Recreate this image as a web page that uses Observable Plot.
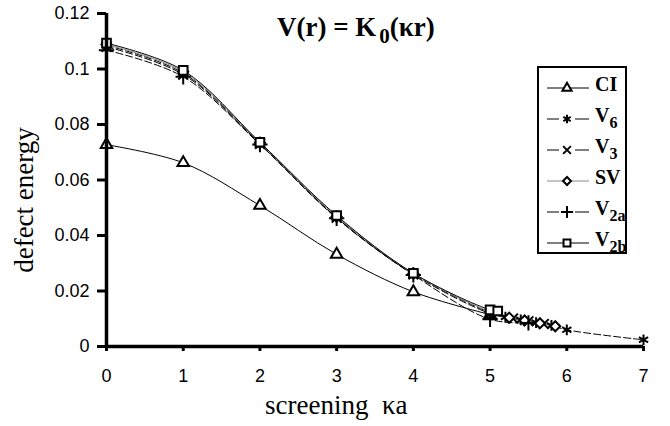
<!DOCTYPE html>
<html><head><meta charset="utf-8">
<script src="https://cdn.jsdelivr.net/npm/d3@7"></script>
<script src="https://cdn.jsdelivr.net/npm/@observablehq/plot@0.6"></script>
<style>
body{margin:0;background:#fff;}
#wrap{position:relative;width:670px;height:426px;}
#title{position:absolute;left:277px;top:12px;font:bold 27px "Liberation Serif",serif;color:#000;white-space:nowrap;}
#title sub{font-size:21px;vertical-align:-7px;margin-left:3px;}
#xlabel{position:absolute;left:265px;top:390px;font:27px "Liberation Serif",serif;color:#000;white-space:pre;}
#ylabel{position:absolute;left:24px;top:200px;transform:translate(-50%,-50%) rotate(-90deg);font:27px "Liberation Serif",serif;color:#000;white-space:nowrap;}
#legend{position:absolute;left:537px;top:66px;width:90px;height:188px;border:2px solid #000;box-sizing:border-box;background:#fff;}
.le{position:absolute;left:0;height:30px;width:87px;}
.le svg{position:absolute;left:4px;top:6px;}
.le span{position:absolute;left:56px;top:1px;font:bold 20px "Liberation Serif",serif;white-space:nowrap;}
.le span sub{font-size:16px;vertical-align:-6px;}
</style></head>
<body><div id="wrap"></div>
<script>
// Data
const ciX = [0,1,2,3,4,5];
const ciY = [0.0727,0.0662,0.0508,0.0332,0.0197,0.0115];
const v6X = [0,1,2,3,4,5,5.2,5.4,5.6,5.8,6,7];
const v6Y = [0.1085,0.0985,0.0732,0.0466,0.0262,0.0122,0.0106,0.0096,0.0086,0.0076,0.0060,0.0024];
const v3X = [0,1,2,3,4,5,5.3,5.5,5.7];
const v3Y = [0.1080,0.0980,0.0730,0.0464,0.0260,0.0119,0.0101,0.0091,0.0081];
const svX = [0,1,2,3,4,5,5.25,5.45,5.65,5.85];
const svY = [0.1088,0.0990,0.0734,0.0468,0.0263,0.0125,0.0104,0.0094,0.0084,0.0073];
const v2aX = [0,1,2,3,4,5,5.5];
const v2aY = [0.1068,0.0972,0.0728,0.0462,0.0258,0.0098,0.0085];
const v2bX = [0,1,2,3,4,5,5.1];
const v2bY = [0.1093,0.0995,0.0736,0.0472,0.0264,0.0132,0.0128];
const xTicks = [0,1,2,3,4,5,6,7];
const xTickLabels = ["0","1","2","3","4","5","6","7"];
const yTicks = [0,0.02,0.04,0.06,0.08,0.1,0.12];
const yTickLabels = ["0","0.02","0.04","0.06","0.08","0.1","0.12"];

const series = [
  {name:"CI", xs:ciX, ys:ciY, symbol:"triangle2", stroke:"#000", dash:null},
  {name:"V6", xs:v6X, ys:v6Y, symbol:"asterisk", stroke:"#000", dash:"7,3"},
  {name:"V3", xs:v3X, ys:v3Y, symbol:"times", stroke:"#000", dash:"7,3"},
  {name:"SV", xs:svX, ys:svY, symbol:"diamond2", stroke:"#888", dash:null},
  {name:"V2a", xs:v2aX, ys:v2aY, symbol:"plus", stroke:"#000", dash:"7,3"},
  {name:"V2b", xs:v2bX, ys:v2bY, symbol:"square2", stroke:"#000", dash:null}
];
const toRows = s => s.xs.map((x,i)=>({x, y:s.ys[i]}));

const marks = [];
for (const s of series) {
  marks.push(Plot.line(toRows(s), {x:"x", y:"y", stroke:s.stroke, strokeWidth:1, strokeDasharray:s.dash||undefined, curve:"catmull-rom"}));
}
const rOf = {triangle2:5.5, asterisk:5, times:4.5, diamond2:4.5, plus:5, square2:5.5};
for (const s of series) {
  marks.push(Plot.dot(toRows(s), {x:"x", y:"y", symbol:()=>s.symbol, r:rOf[s.symbol], stroke:"#000", strokeWidth:2, fill:"white"}));
}
marks.push(Plot.ruleY([0], {x1:0, x2:7, stroke:"#000", strokeWidth:3.5}));
marks.push(Plot.ruleX([0], {y1:0, y2:0.12, stroke:"#000", strokeWidth:3.5}));

const plot = Plot.plot({
  width:670, height:426,
  marginLeft:106, marginRight:27, marginTop:13, marginBottom:80,
  style:{background:"white", fontFamily:"'Liberation Sans',Arial,sans-serif", fontSize:"18px"},
  x:{domain:[0,7], label:null},
  y:{domain:[0,0.12], label:null},
  symbol:{type:"identity"},
  marks: [
    Plot.axisX({ticks:xTicks, tickSize:5, tickPadding:18, strokeWidth:3, fontSize:18, label:null, tickFormat:d=>xTickLabels[xTicks.indexOf(d)]}),
    Plot.axisY({ticks:yTicks, tickSize:9, tickPadding:8, strokeWidth:3, fontSize:18, label:null, tickFormat:d=>yTickLabels[yTicks.indexOf(d)]}),
    ...marks
  ]
});
const wrap = document.getElementById("wrap");
wrap.appendChild(plot);

const title = document.createElement("div");
title.id = "title";
title.innerHTML = "V(r) = K<sub>0</sub>(κr)";
wrap.appendChild(title);

const xl = document.createElement("div");
xl.id = "xlabel"; xl.textContent = "screening  κa";
wrap.appendChild(xl);
const yl = document.createElement("div");
yl.id = "ylabel"; yl.textContent = "defect energy";
wrap.appendChild(yl);

// Legend
const legend = document.createElement("div");
legend.id = "legend";
const labelsHTML = {CI:"CI", V6:"V<sub>6</sub>", V3:"V<sub>3</sub>", SV:"SV", V2a:"V<sub>2a</sub>", V2b:"V<sub>2b</sub>"};
const d3sym = {triangle2:d3.symbolTriangle2, asterisk:d3.symbolAsterisk, times:d3.symbolTimes, diamond2:d3.symbolDiamond2, plus:d3.symbolPlus, square2:d3.symbolSquare2};
series.forEach((s,i)=>{
  const row = document.createElement("div");
  row.className = "le";
  row.style.top = (4 + i*31) + "px";
  const rr = rOf[s.symbol]*0.8;
  const sym = d3.symbol().type(d3sym[s.symbol]).size(Math.PI*rr*rr)();
  const ln = s.dash ? `<line x1="4" y1="10" x2="16" y2="10" stroke="${s.stroke}"/><line x1="32" y1="10" x2="46" y2="10" stroke="${s.stroke}"/>` : `<line x1="4" y1="10" x2="46" y2="10" stroke="${s.stroke}"/>`;
  row.innerHTML = `<svg width="52" height="20">${ln}<path transform="translate(24,10)" d="${sym}" fill="white" stroke="#000" stroke-width="2"/></svg><span>${labelsHTML[s.name]}</span>`;
  legend.appendChild(row);
});
wrap.appendChild(legend);
</script>
</body></html>
